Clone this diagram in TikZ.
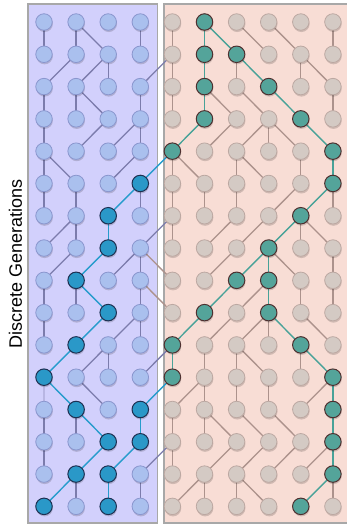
\documentclass[tikz,border=0pt]{standalone}
\usepackage{fontspec}
\setmainfont{Liberation Sans}
\usetikzlibrary{shadows}

% panel and node colours
\definecolor{leftbg}{RGB}{210,208,252}
\definecolor{rightbg}{RGB}{248,221,213}
\definecolor{panelrule}{RGB}{168,168,168}
\definecolor{lfill}{RGB}{170,192,238}
\definecolor{lrule}{RGB}{138,150,206}
\definecolor{ledge}{RGB}{124,124,172}
\definecolor{lhotfill}{RGB}{42,152,200}
\definecolor{lhotrule}{RGB}{30,48,82}
\definecolor{lhotedge}{RGB}{38,156,204}
\definecolor{rfill}{RGB}{212,202,196}
\definecolor{rrule}{RGB}{188,168,162}
\definecolor{redge}{RGB}{172,146,140}
\definecolor{rhotfill}{RGB}{84,164,154}
\definecolor{rhotrule}{RGB}{78,48,48}
\definecolor{rhotedge}{RGB}{72,162,152}

\pgfdeclarelayer{panels}
\pgfdeclarelayer{links}
\pgfsetlayers{panels,links,main}

\tikzset{
  gen/.style={circle, minimum size=16.5pt, inner sep=0pt,
    drop shadow={shadow xshift=0.6pt, shadow yshift=-1.8pt, opacity=0.16, fill=black}},
  plain-l/.style={gen, fill=lfill, draw=lrule, line width=0.8pt},
  plain-r/.style={gen, fill=rfill, draw=rrule, line width=0.8pt},
  hot-l/.style={gen, fill=lhotfill, draw=lhotrule, line width=1pt},
  hot-r/.style={gen, fill=rhotfill, draw=rhotrule, line width=1pt},
  plain-el/.style={draw=ledge, line width=1.3pt},
  plain-er/.style={draw=redge, line width=1.3pt},
  hot-el/.style={draw=lhotedge, line width=1.4pt},
  hot-er/.style={draw=rhotedge, line width=1.4pt},
  panel/.style={draw=panelrule, line width=1.1pt}
}

\begin{document}
\begin{tikzpicture}[x=1pt, y=1pt]
\useasboundingbox (0,0) rectangle (347,-524);

% the two population panels
\begin{pgfonlayer}{panels}
\path[panel, fill=leftbg]  (28,-4) rectangle (157.5,-523);
\path[panel, fill=rightbg] (164,-4) rectangle (352,-523);
\end{pgfonlayer}

% axis label
\node[rotate=90, font=\fontsize{18}{21}\selectfont] (ylabel) at (15.5,-263.5) {Discrete Generations};

% individuals on the traced lineages (generation-column)
\foreach \p in {5-3,6-2,7-2,8-1,9-2,10-1,11-0,12-1,12-3,13-2,13-3,14-1,14-2,15-0,15-2,
                0-5,1-5,1-6,2-5,2-7,3-5,3-8,4-4,4-9,5-9,6-8,7-7,8-6,8-7,9-5,9-7,
                10-4,10-8,11-4,11-9,12-9,13-9,14-9,15-8}
  {\expandafter\gdef\csname hl@\p\endcsname{}}

% the individuals
\foreach \r in {0,...,15}
  \foreach \c in {0,...,9} {
    \ifnum\c<4 \def\side{l}\else\def\side{r}\fi
    \ifcsname hl@\r-\c\endcsname \def\kind{hot}\else\def\kind{plain}\fi
    \edef\nst{\kind-\side}
    \node[\nst] (n-\r-\c) at ({44+32.1*\c},{-(22+32.29*\r)}) {};
  }

% parent/child links, listed per child generation
\begin{pgfonlayer}{links}
\foreach \r/\lst in {
   1/{0/0,1/1,1/2,3/3,4/4,5/5,5/6,6/7,7/8,9/9},
   2/{1/0,2/1,2/2,4/3,4/4,5/5,6/6,6/7,8/8,8/9},
   3/{0/0,1/1,1/2,3/3,4/4,5/5,5/6,6/7,7/8,9/9},
   4/{0/0,2/1,3/2,3/3,5/4,6/5,7/6,7/7,7/8,8/9},
   5/{0/0,0/1,3/2,4/3,4/4,4/5,6/6,6/7,8/8,9/9},
   6/{0/0,1/1,3/2,3/3,4/4,5/5,6/6,8/7,9/8,9/9},
   7/{1/0,1/1,2/2,4/3,4/4,6/5,7/6,8/7,8/8,8/9},
   8/{1/0,2/1,3/2,3/3,3/4,6/5,7/6,7/7,7/8,9/9},
   9/{0/0,1/1,1/2,3/3,3/4,6/5,7/6,7/7,8/8,9/9},
  10/{0/0,2/1,3/2,3/3,5/4,6/5,7/6,7/7,7/8,8/9},
  11/{1/0,2/1,2/2,4/3,4/4,5/5,6/6,6/7,8/8,8/9},
  12/{0/1,1/2,4/3,5/4,5/5,6/6,7/7,9/8,9/9},
  13/{0/0,1/1,1/2,3/3,4/4,5/5,5/6,6/7,7/8,9/9},
  14/{0/0,2/1,3/2,4/3,4/4,6/5,7/6,8/7,9/8,9/9},
  15/{1/0,1/1,2/2,3/3,5/4,5/5,6/6,6/7,9/8,9/9}}
{
  \pgfmathtruncatemacro{\q}{\r-1}
  \foreach \a/\b in \lst {
    \ifnum\b<4 \def\side{l}\else\def\side{r}\fi
    \ifcsname hl@\r-\b\endcsname \def\kind{hot}\else\def\kind{plain}\fi
    \edef\est{\kind-e\side}
    \draw[\est] (n-\q-\a.center) -- (n-\r-\b.center);
  }
}
\draw[plain-el, opacity=0.3] (n-11-0.center) -- (n-12-0.center);
\end{pgfonlayer}
\end{tikzpicture}
\end{document}
